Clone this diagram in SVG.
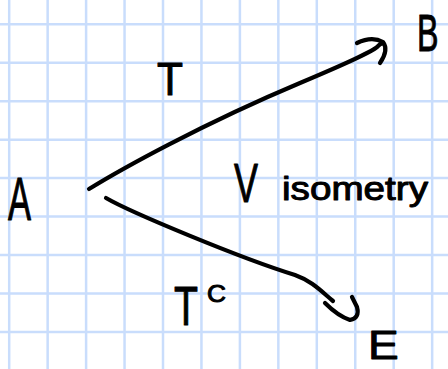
<svg xmlns="http://www.w3.org/2000/svg" width="448" height="369" viewBox="0 0 448 369">
<style>
.grid line{stroke:#c9ddfc;stroke-width:2.5}
.ink{fill:none;stroke:#000;stroke-width:4.2;stroke-linecap:round;stroke-linejoin:round}
text{font-family:"Liberation Sans","DejaVu Sans",sans-serif;fill:#000;stroke:#000;stroke-width:1;stroke-linejoin:round}
</style>
<rect width="448" height="369" fill="#fff"/>
<g class="grid">
<line x1="9.2" y1="0" x2="9.2" y2="369"/><line x1="47.65" y1="0" x2="47.65" y2="369"/><line x1="86.1" y1="0" x2="86.1" y2="369"/><line x1="124.55" y1="0" x2="124.55" y2="369"/><line x1="163" y1="0" x2="163" y2="369"/><line x1="201.45" y1="0" x2="201.45" y2="369"/><line x1="239.9" y1="0" x2="239.9" y2="369"/><line x1="278.35" y1="0" x2="278.35" y2="369"/><line x1="316.8" y1="0" x2="316.8" y2="369"/><line x1="355.25" y1="0" x2="355.25" y2="369"/><line x1="393.7" y1="0" x2="393.7" y2="369"/><line x1="432.15" y1="0" x2="432.15" y2="369"/>
<line x1="0" y1="24.3" x2="448" y2="24.3"/><line x1="0" y1="62.75" x2="448" y2="62.75"/><line x1="0" y1="101.2" x2="448" y2="101.2"/><line x1="0" y1="139.65" x2="448" y2="139.65"/><line x1="0" y1="178.1" x2="448" y2="178.1"/><line x1="0" y1="216.55" x2="448" y2="216.55"/><line x1="0" y1="255" x2="448" y2="255"/><line x1="0" y1="293.45" x2="448" y2="293.45"/><line x1="0" y1="331.9" x2="448" y2="331.9"/>
</g>
<g id="connectors">
<g id="edge-T">
<path class="ink" d="M89,189 C120,170 200,125 300,83 S370,48 383,43"/>
<path class="ink" d="M357,43 Q372,36 383,42 Q389,50 380,63"/>
<text x="157" y="95" font-size="46" textLength="26" lengthAdjust="spacingAndGlyphs">T</text>
</g>
<g id="edge-TC">
<path class="ink" d="M106,198 C130,212 240,258 295,275 C312,281 322,292 333,301"/>
<path class="ink" d="M325,303 Q338,316 350,320 Q360,318 357,307 L352,297"/>
<text x="174" y="325" font-size="56" textLength="24" lengthAdjust="spacingAndGlyphs">T</text>
<text x="207" y="302" font-size="24" textLength="19" lengthAdjust="spacingAndGlyphs">C</text>
</g>
<g id="label-V">
<text x="234" y="202" font-size="56" textLength="24" lengthAdjust="spacingAndGlyphs">V</text>
<text x="282" y="200" font-size="33" textLength="146" lengthAdjust="spacingAndGlyphs">isometry</text>
</g>
</g>
<g id="node-A"><text x="8" y="220" font-size="61" textLength="23" lengthAdjust="spacingAndGlyphs">A</text></g>
<g id="node-B"><text transform="translate(417,51) scale(0.62,1)" font-size="52">B</text></g>
<g id="node-E"><text transform="translate(368,359) scale(1.15,1)" font-size="40">E</text></g>
</svg>
